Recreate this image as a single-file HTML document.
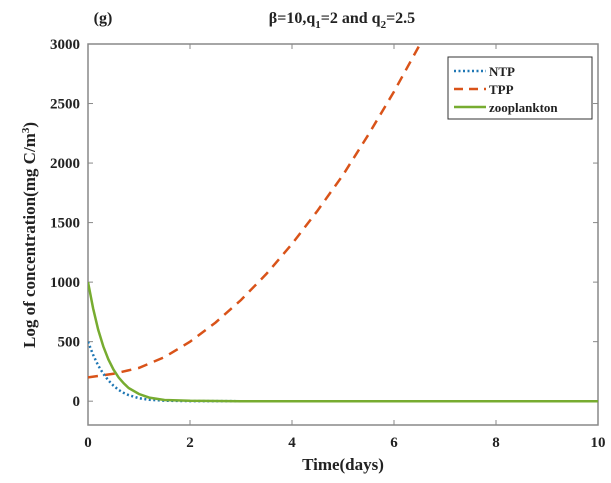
<!DOCTYPE html>
<html><head><meta charset="utf-8"><style>
body{margin:0;background:#fff}
text{font-family:"Liberation Serif",serif;font-weight:bold;fill:#222}
</style></head><body>
<svg id="c" width="611" height="478">
<text x="103" y="23" font-size="16" text-anchor="middle">(g)</text>
<text x="342" y="23" font-size="16" text-anchor="middle">β=10,q<tspan font-size="11" dy="5">1</tspan><tspan dy="-5">=2 and q</tspan><tspan font-size="11" dy="5">2</tspan><tspan dy="-5">=2.5</tspan></text>
<text x="343" y="470" font-size="17" text-anchor="middle">Time(days)</text>
<text transform="translate(35,235) rotate(-90)" font-size="17" text-anchor="middle">Log of concentration(mg C/m<tspan font-size="11" dy="-6">3</tspan><tspan dy="6">)</tspan></text>
<g id="ax"></g><g id="ser"></g>
<g>
<rect x="448" y="57" width="144" height="62" fill="#fff" stroke="#333" stroke-width="1"/>
<line x1="454" y1="71" x2="486" y2="71" stroke="#1f77b4" stroke-width="2.5" stroke-dasharray="2,2.5"/>
<text x="489" y="76" font-size="13">NTP</text>
<line x1="454" y1="89" x2="486" y2="89" stroke="#d95319" stroke-width="2.5" stroke-dasharray="9,6"/>
<text x="489" y="94" font-size="13">TPP</text>
<line x1="454" y1="107" x2="486" y2="107" stroke="#77ac30" stroke-width="2.5"/>
<text x="489" y="112" font-size="13">zooplankton</text>
</g>
</svg>
<script>
const xTicks=[0,2,4,6,8,10];
const yTicks=[0,500,1000,1500,2000,2500,3000];
const tTimes=[0,0.5,1,1.5,2,2.5,3,3.5,4,4.5,5,5.5,6,6.5,6.6];
const tppVals=[200,230,280,370,500,660,850,1070,1320,1600,1900,2240,2600,2990,3070];
const dTimes=[0,0.1,0.2,0.3,0.4,0.5,0.6,0.7,0.8,1,1.2,1.5,2,3,5,10];
const ntpVals=[500,390,300,230,175,130,95,70,50,25,12,4,1,0,0,0];
const zooVals=[1000,780,600,460,350,265,200,150,110,60,30,10,3,0,0,0];
const X0=88,X1=598,Y0=425,Y1=44,ymin=-200,ymax=3000;
const sx=v=>X0+(v-0)/10*(X1-X0), sy=v=>Y0-(v-ymin)/(ymax-ymin)*(Y0-Y1);
const NS="http://www.w3.org/2000/svg";
const ax=document.getElementById('ax'),ser=document.getElementById('ser');
function mk(p,tag,a){const e=document.createElementNS(NS,tag);for(const k in a)e.setAttribute(k,a[k]);p.appendChild(e);return e;}
const fr=mk(ax,'rect',{x:X0,y:Y1,width:X1-X0,height:Y0-Y1,fill:'none',stroke:'#888','stroke-width':1.5});


xTicks.forEach(v=>{mk(ax,'line',{x1:sx(v),x2:sx(v),y1:Y0,y2:Y0-5,stroke:'#888'});mk(ax,'line',{x1:sx(v),x2:sx(v),y1:Y1,y2:Y1+5,stroke:'#888'});
const t=mk(ax,'text',{x:sx(v),y:Y0+22,'font-size':15,'text-anchor':'middle'});t.textContent=v;

});
yTicks.forEach(v=>{mk(ax,'line',{x1:X0,x2:X0+5,y1:sy(v),y2:sy(v),stroke:'#888'});mk(ax,'line',{x1:X1,x2:X1-5,y1:sy(v),y2:sy(v),stroke:'#888'});
const t=mk(ax,'text',{x:X0-8,y:sy(v)+5,'font-size':15,'text-anchor':'end'});t.textContent=v;

});
const cp=mk(ser,'clipPath',{id:'cl'});mk(cp,'rect',{x:X0,y:Y1,width:X1-X0,height:Y0-Y1});
function line(xs,ys,st,name){const d=xs.map((x,i)=>(i?'L':'M')+sx(x).toFixed(1)+','+sy(ys[i]).toFixed(1)).join('');
const p=mk(ser,'path',Object.assign({d:d,fill:'none','clip-path':'url(#cl)'},st));

}
line(tTimes,tppVals,{stroke:'#d95319','stroke-width':2.5,'stroke-dasharray':'10,7'},'tpp-line');
line(dTimes,ntpVals,{stroke:'#1f77b4','stroke-width':2.5,'stroke-dasharray':'2,2.5'},'ntp-line');
line(dTimes,zooVals,{stroke:'#77ac30','stroke-width':2.5},'zooplankton-line');
</script>
</body></html>
